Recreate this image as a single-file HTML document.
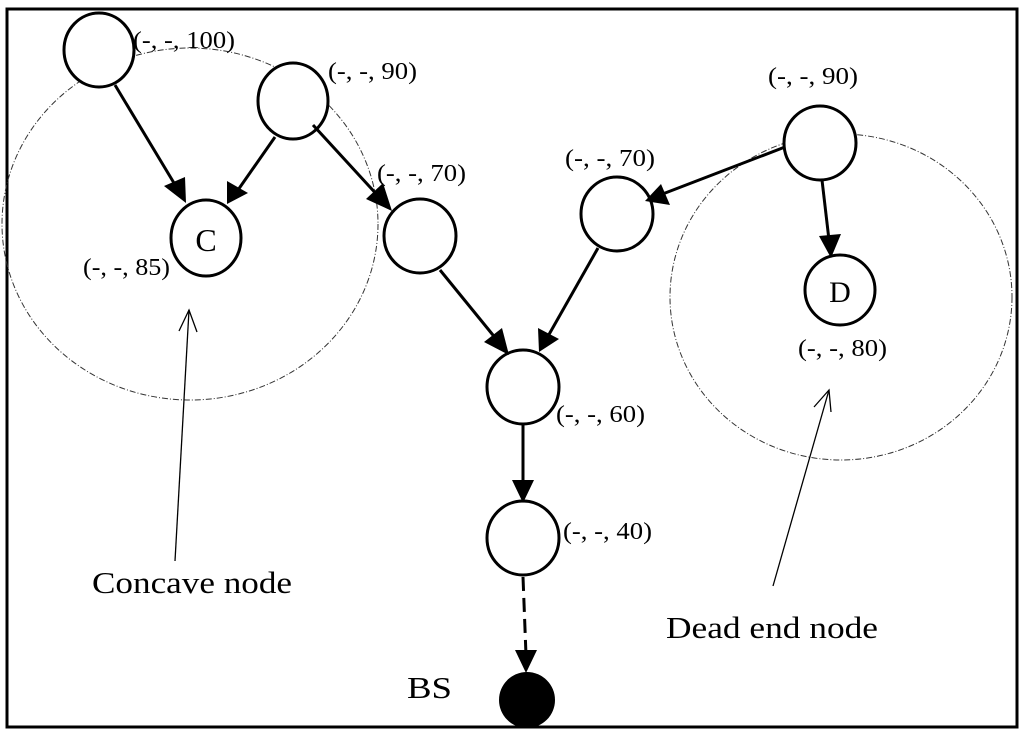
<!DOCTYPE html>
<html><head><meta charset="utf-8"><style>
html,body{margin:0;padding:0;background:#fff;}
svg{display:block;}
text{font-family:"Liberation Serif",serif;fill:#000;}
</style></head><body>
<svg width="1024" height="739" viewBox="0 0 1024 739" xmlns="http://www.w3.org/2000/svg">
<rect x="7" y="9" width="1010" height="718" fill="none" stroke="#000" stroke-width="3"/>
<ellipse cx="190" cy="224" rx="188" ry="176" fill="none" stroke="#333" stroke-width="1" stroke-dasharray="6,2,1,2"/>
<ellipse cx="841" cy="297" rx="171" ry="163" fill="none" stroke="#333" stroke-width="1" stroke-dasharray="6,2,1,2"/>
<g fill="#fff" stroke="#000" stroke-width="3">
<ellipse cx="99" cy="50" rx="35" ry="37"/>
<ellipse cx="293" cy="101" rx="35" ry="38"/>
<ellipse cx="206" cy="238" rx="35" ry="38"/>
<ellipse cx="420" cy="236" rx="36" ry="37"/>
<ellipse cx="617" cy="214" rx="36" ry="37"/>
<ellipse cx="820" cy="143" rx="36" ry="37"/>
<ellipse cx="840" cy="290" rx="35" ry="35"/>
<ellipse cx="523" cy="387" rx="36" ry="37"/>
<ellipse cx="523" cy="538" rx="36" ry="37"/>
</g>
<circle cx="527" cy="700" r="28" fill="#000"/>
<g stroke="#000" stroke-width="3" fill="none">
<line x1="115" y1="85" x2="177" y2="188"/>
<line x1="275" y1="137" x2="238" y2="190"/>
<line x1="313" y1="125" x2="380" y2="198"/>
<line x1="440" y1="270" x2="497" y2="340"/>
<line x1="598" y1="248" x2="547" y2="338"/>
<line x1="785" y1="147" x2="660" y2="195"/>
<line x1="822" y1="180" x2="829" y2="240"/>
<line x1="523" y1="425" x2="523" y2="485"/>
<line x1="523" y1="577" x2="526" y2="655" stroke-dasharray="14,7"/>
</g>
<g fill="#000">
<polygon points="186,203 164,186 185,177"/>
<polygon points="227,204 227,181 248,193"/>
<polygon points="392,211 366,199 383,183"/>
<polygon points="509,355 484,342 502,328"/>
<polygon points="539,352 538,328 559,339"/>
<polygon points="645,201 661,184 670,205"/>
<polygon points="831,258 819,236 841,234"/>
<polygon points="523,503 512,480 534,480"/>
<polygon points="526,673 515,650 537,650"/>
</g>
<g stroke="#000" stroke-width="1.3" fill="none">
<line x1="175" y1="561" x2="189" y2="310"/>
<polyline points="179,331 189,310 197,332"/>
<line x1="773" y1="586" x2="829" y2="390"/>
<polyline points="814,407 829,390 831,412"/>
</g>
<g font-size="24" lengthAdjust="spacingAndGlyphs">
<text x="133" y="48" textLength="102" lengthAdjust="spacingAndGlyphs">(-, -, 100)</text>
<text x="328" y="79" textLength="89" lengthAdjust="spacingAndGlyphs">(-, -, 90)</text>
<text x="377" y="181" textLength="89" lengthAdjust="spacingAndGlyphs">(-, -, 70)</text>
<text x="83" y="275" textLength="87" lengthAdjust="spacingAndGlyphs">(-, -, 85)</text>
<text x="565" y="166" textLength="90" lengthAdjust="spacingAndGlyphs">(-, -, 70)</text>
<text x="768" y="84" textLength="90" lengthAdjust="spacingAndGlyphs">(-, -, 90)</text>
<text x="798" y="356" textLength="89" lengthAdjust="spacingAndGlyphs">(-, -, 80)</text>
<text x="556" y="422" textLength="89" lengthAdjust="spacingAndGlyphs">(-, -, 60)</text>
<text x="563" y="539" textLength="89" lengthAdjust="spacingAndGlyphs">(-, -, 40)</text>
</g>
<text x="206" y="251" font-size="32" text-anchor="middle">C</text>
<text x="840" y="302" font-size="30" text-anchor="middle">D</text>
<text x="92" y="593" font-size="31" textLength="200" lengthAdjust="spacingAndGlyphs">Concave node</text>
<text x="666" y="638" font-size="31" textLength="212" lengthAdjust="spacingAndGlyphs">Dead end node</text>
<text x="407" y="698" font-size="31" textLength="45" lengthAdjust="spacingAndGlyphs">BS</text>
</svg>
</body></html>
